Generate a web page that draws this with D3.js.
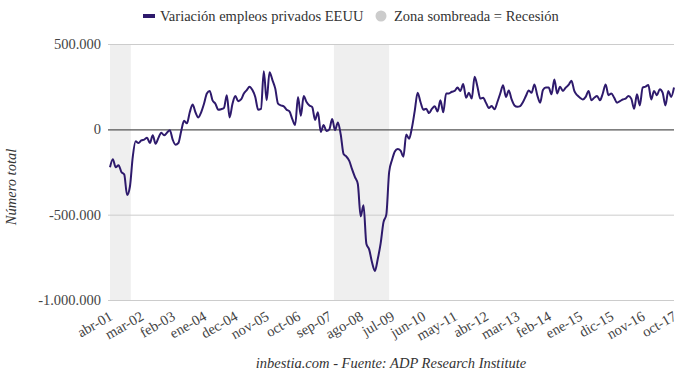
<!DOCTYPE html>
<html><head><meta charset="utf-8">
<script src="https://cdn.jsdelivr.net/npm/d3@7"></script>
<style>
html,body{margin:0;padding:0;background:#fff;}
svg{display:block;font-family:"Liberation Serif","DejaVu Serif",serif;}
</style></head>
<body><svg id="c" width="680" height="376"></svg>
<script>
// Monthly change in US private employment (ADP), apr-01 .. oct-17
const values = [
 -222,-175,-222,-210,-250,-265,-385,-335,-160,-70,
 -80,-65,-60,-50,-80,-35,-85,-50,-20,-35,
 -20,-5,-60,-90,-80,-10,50,35,100,145,
 100,70,100,150,210,225,170,150,115,118,
 125,200,70,150,195,165,175,210,230,250,
 230,190,115,120,340,170,335,290,240,150,
 140,135,115,105,60,25,190,80,195,160,
 140,130,55,100,-15,25,-10,0,60,-5,
 40,-30,-145,-160,-185,-235,-280,-320,-510,-445,
 -670,-705,-780,-830,-760,-670,-545,-500,-250,-180,
 -130,-115,-125,-160,-30,-55,10,110,215,160,
 115,120,95,120,135,105,170,100,210,210,
 220,225,245,225,265,185,214,180,308,250,
 180,185,155,125,136,117,160,210,258,190,
 228,175,140,132,136,160,195,228,214,263,
 200,156,230,245,245,205,292,210,250,225,
 245,260,285,225,200,185,175,190,225,170,
 185,195,170,210,263,200,210,185,156,165,
 175,180,195,180,120,205,140,245,250,260,
 175,225,200,235,215,140,225,190,245
].map(v => v * 1000);

const tickLabels = ["abr-01","mar-02","feb-03","ene-04","dec-04","nov-05","oct-06","sep-07","ago-08","jul-09","jun-10","may-11","abr-12","mar-13","feb-14","ene-15","dic-15","nov-16","oct-17"];
const tickStep = 11; // months between labels
const yTicks = [500000, 0, -500000, -1000000];
// recession periods, in month index from abr-01
const recessions = [[0, 7.3], [78.6, 98]];

const seriesName = "Variación empleos privados EEUU";
const shadeName = "Zona sombreada = Recesión";
const yTitle = "Número total";
const footer = "inbestia.com - Fuente: ADP Research Institute";

const svg = d3.select("#c");
const W = 680, H = 376;
const FS = 14.5;
const m = {l: 110, r: 6, t: 44, b: 76};
const x = d3.scaleLinear().domain([0, values.length - 1]).range([m.l, W - m.r]);
const y = d3.scaleLinear().domain([-1000000, 500000]).range([H - m.b, m.t]);

const fmt = v => d3.format(",")(v).replace(/,/g, ".").replace("\u2212", "-");

// recession shading
svg.append("g").selectAll("rect").data(recessions).join("rect")
  .attr("x", d => x(d[0])).attr("width", d => x(d[1]) - x(d[0]))
  .attr("y", y(500000)).attr("height", y(-1000000) - y(500000))
  .attr("fill", "#efefef");

// grid + y labels
const yAxis = svg.append("g").attr("transform", `translate(${m.l - 2},0)`)
  .call(d3.axisLeft(y).tickValues(yTicks).tickFormat(fmt).tickSize(-(W - m.r - m.l + 2)).tickPadding(7));
yAxis.select(".domain").remove();
yAxis.selectAll(".tick line").attr("stroke", d => d === 0 ? "#555" : "#ccc").attr("stroke-width", d => d === 0 ? 1.3 : 1);
yAxis.selectAll(".tick text").attr("font-size", FS).attr("fill", "#444").attr("font-family", "Liberation Serif, serif");

// x labels
const tickIdx = tickLabels.map((_, i) => i * tickStep);
const xAxis = svg.append("g").attr("transform", `translate(0,${H - m.b})`)
  .call(d3.axisBottom(x).tickValues(tickIdx).tickFormat((d, i) => tickLabels[i]).tickSize(0).tickPadding(0));
xAxis.select(".domain").remove();
xAxis.selectAll(".tick text")
  .attr("font-size", FS).attr("fill", "#444").attr("font-family", "Liberation Serif, serif")
  .attr("text-anchor", "end").attr("dy", 0)
  .attr("transform", "translate(3,19) rotate(-30)");

// line
const line = d3.line().x((d, i) => x(i)).y(d => y(d)).curve(d3.curveMonotoneX);
svg.append("path").datum(values).attr("d", line)
  .attr("fill", "none").attr("stroke", "#2e1a6c").attr("stroke-width", 2).attr("stroke-linejoin", "round");

// legend
const lg = svg.append("g").attr("font-size", FS).attr("fill", "#333");
lg.append("rect").attr("x", 143).attr("y", 14).attr("width", 12).attr("height", 4).attr("fill", "#2e1a6c");
lg.append("text").attr("x", 160).attr("y", 21).text(seriesName).attr("fill", "#333");
lg.append("circle").attr("cx", 381).attr("cy", 16).attr("r", 5.5).attr("fill", "#ccc");
lg.append("text").attr("x", 394).attr("y", 21).text(shadeName).attr("fill", "#333");

// y title
svg.append("text").attr("transform", "translate(16,187) rotate(-90)")
  .attr("text-anchor", "middle").attr("font-size", FS).attr("font-style", "italic").attr("fill", "#333").text(yTitle);

// footer
svg.append("text").attr("x", 391).attr("y", 368).attr("text-anchor", "middle")
  .attr("font-size", FS).attr("font-style", "italic").attr("fill", "#333").text(footer);
</script></body></html>
